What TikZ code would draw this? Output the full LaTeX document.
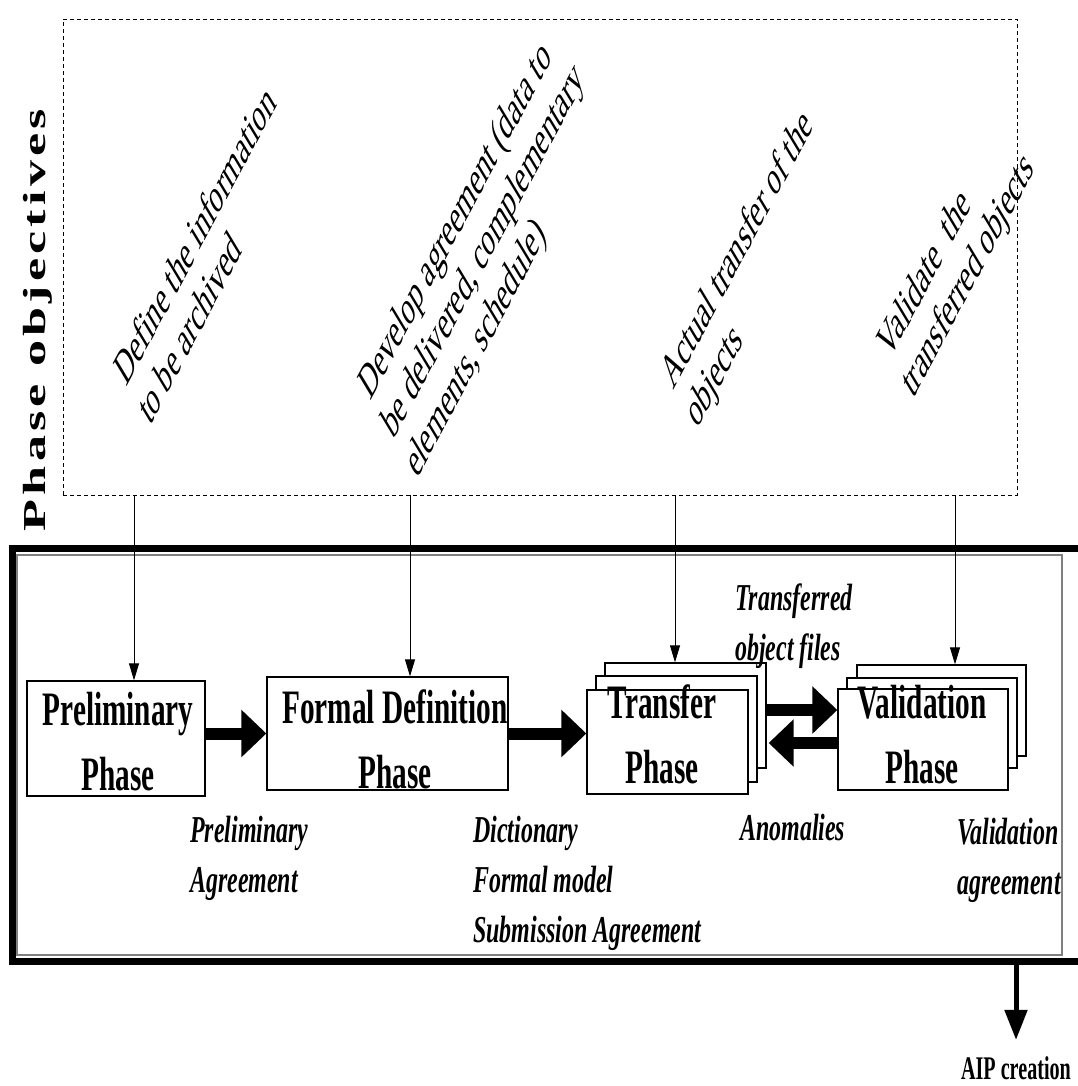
\documentclass[tikz,border=0pt]{standalone}
\usepackage{fontspec}
\usepackage{graphicx}
\setmainfont{Liberation Serif}
\newfontfamily\boxfont[FakeStretch=0.61]{Liberation Serif}
\newfontfamily\labelfont[FakeStretch=0.63]{Liberation Serif}
\newfontfamily\titlefont[LetterSpace=8]{Liberation Serif}
\usetikzlibrary{arrows.meta,calc}

\begin{document}
\begin{tikzpicture}[x=1pt,y=-1pt,
  phasebox/.style={draw=black,line width=1.3pt,fill=white,inner sep=0pt},
  phasetext/.style={align=center,inner sep=0pt,anchor=base,
    font=\boxfont\bfseries\fontsize{48}{65}\selectfont},
  outtext/.style={align=left,inner sep=0pt,anchor=base west,
    font=\labelfont\bfseries\itshape\fontsize{38}{50}\selectfont},
  objtext/.style={rotate=62,xslant=0.6,anchor=base west,align=left,inner sep=0pt,
    font=\fontsize{35}{39}\selectfont},
  blockarrow/.style={line width=12pt,-{Triangle[length=25pt,width=46pt]}},
  thinarrow/.style={line width=0.9pt,-{Triangle[length=17pt,width=10pt]}},
]
\useasboundingbox (0,0) rectangle (1077,1086);

% objectives panel
\node[draw,dashed,dash pattern=on 4pt off 3pt,line width=0.9pt,
  minimum width=954pt,minimum height=476pt,inner sep=0pt] (obj) at (540,257) {};
\node[rotate=90,anchor=base,inner sep=0pt,
  font=\titlefont\bfseries\fontsize{32}{32}\selectfont] (objtitle) at (45,320)
  {\scalebox{1.63}[1]{Phase objectives}};

% objective texts (anchored at the start of their last line)
\node[objtext] (o1) at (150,427) {Define the information\\to be archived};
\node[objtext] (o2) at (417,480) {Develop agreement (data to\\be delivered, complementary\\elements, schedule)};
\node[objtext] (o3) at (697,430) {Actual transfer of the\\objects};
\node[objtext] (o4) at (913,400) {Validate~ the\\transferred objects};

% process frame
\node[draw=black,line width=7pt,minimum width=1078pt,minimum height=412.5pt,inner sep=0pt]
  (frame) at (551,755) {};
\node[draw=gray,line width=1.2pt,minimum width=1045pt,minimum height=400pt,inner sep=0pt]
  (framein) at (539.5,755) {};

% phase boxes
\node[phasebox,minimum width=178pt,minimum height=115pt] (prelim) at (116,738.5) {};
\node[phasebox,minimum width=241pt,minimum height=113pt] (formal) at (387.5,733.5) {};
\node[phasebox,minimum width=161pt,minimum height=105pt] (tr3) at (685.5,715.5) {};
\node[phasebox,minimum width=161pt,minimum height=106pt] (tr2) at (676.5,729) {};
\node[phasebox,minimum width=161pt,minimum height=104pt] (tr1) at (667.5,742) {};
\node[phasebox,minimum width=169pt,minimum height=91pt] (val3) at (941.5,710.5) {};
\node[phasebox,minimum width=170pt,minimum height=90pt] (val2) at (932,723) {};
\node[phasebox,minimum width=170pt,minimum height=101pt] (val1) at (923,739.5) {};

% phase names (anchored at the baseline of their last line)
\node[phasetext] (tprelim) at (118,790) {Preliminary\\Phase};
\node[phasetext] (tformal) at (395,788) {Formal Definition\\Phase};
\node[phasetext] (ttransfer) at (662,783) {Transfer\\Phase};
\node[phasetext] (tvalid) at (922,783) {Validation\\Phase};

% flow arrows
\draw[blockarrow] (prelim.east |- formal.west) -- (formal.west);
\draw[blockarrow] (formal.east) -- (formal.east -| tr1.west);
\coordinate (fwd) at ([yshift=5.5pt]tr3.east);
\coordinate (back) at ([yshift=-3.5pt]val1.west);
\draw[blockarrow] (fwd) -- (fwd -| val1.west);
\draw[blockarrow] (back) -- ([xshift=2pt]back -| tr3.east);

% objective links
\draw[thinarrow] ([xshift=18pt]prelim.north |- obj.south) -- ([xshift=18pt]prelim.north);
\draw[thinarrow] ([xshift=22.5pt]formal.north |- obj.south) -- ([xshift=22.5pt]formal.north);
\draw[thinarrow] ([xshift=-10.5pt]tr3.north |- obj.south) -- ([xshift=-10.5pt]tr3.north);
\draw[thinarrow] ([xshift=13.5pt]val3.north |- obj.south) -- ([xshift=13.5pt]val3.north);

% phase outputs (anchored at the baseline of their last line)
\node[outtext] (files) at (735,660) {Transferred\\object files};
\node[outtext] (prelagr) at (190,892) {Preliminary\\Agreement};
\node[outtext] (dict) at (473,942) {Dictionary\\Formal model\\Submission Agreement};
\node[outtext] (anom) at (740,840) {Anomalies};
\node[outtext] (valagr) at (957,894) {Validation\\agreement};

\node[anchor=base,inner sep=0pt,font=\boxfont\bfseries\fontsize{33}{33}\selectfont]
  (aip) at (1016,1079) {AIP creation};
\draw[line width=5pt,-{Triangle[length=30pt,width=22pt]}]
  (frame.south -| aip.north) -- ([yshift=16pt]aip.north);
\end{tikzpicture}
\end{document}
